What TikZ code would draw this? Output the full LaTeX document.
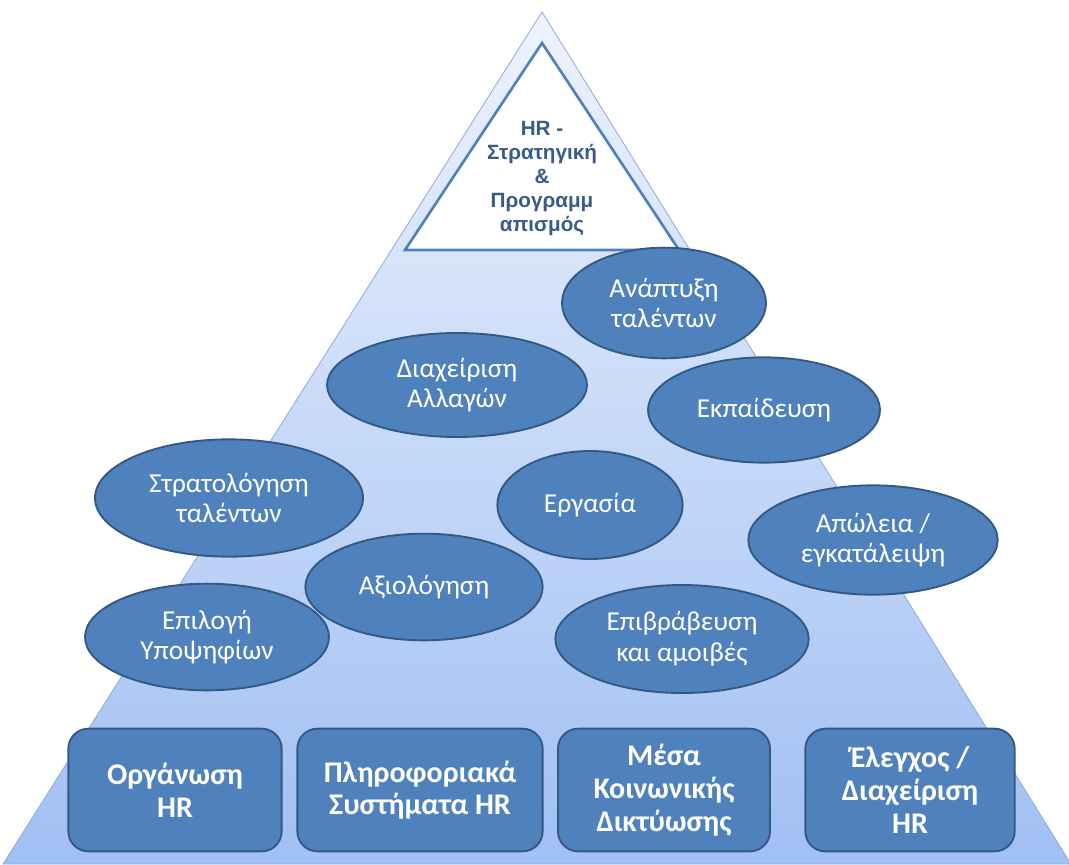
\documentclass[tikz,border=0pt]{standalone}
\usepackage{fontspec}
\setmainfont{Carlito}
\newfontfamily\arialfont{Liberation Sans}
\usetikzlibrary{shapes.geometric}
\definecolor{hrblue}{RGB}{79,129,189}
\definecolor{hredge}{RGB}{52,88,132}
\definecolor{hrtop}{RGB}{238,243,253}
\definecolor{hrbottom}{RGB}{160,191,243}
\definecolor{hrline}{RGB}{140,170,220}
\definecolor{hrtext}{RGB}{58,90,136}

\begin{document}
\begin{tikzpicture}[x=0.75pt, y=-0.75pt,
    oval/.style={ellipse, draw=hredge, fill=hrblue, line width=1.4pt, text=white,
        align=center, inner sep=0pt, font=\fontsize{20.5}{23}\selectfont},
    tile/.style={rectangle, rounded corners=15pt, draw=hredge, fill=hrblue, line width=1.4pt,
        text=white, align=center, inner sep=0pt, minimum height=92pt,
        font=\bfseries\fontsize{22.5}{24.5}\selectfont}]

    \useasboundingbox (0,0) rectangle (1069,864);

    % pyramid
    \shade[top color=hrtop, bottom color=hrbottom, draw=hrline, line width=0.6pt]
        (3,864) -- (542,12) -- (1071,864) -- cycle;
    \draw[fill=white, draw=hrblue, line width=2pt] (405,250) -- (542,43) -- (679,250) -- cycle;
    \node[text=hrtext, align=center, font=\arialfont\bfseries\fontsize{15.5}{18}\selectfont]
        (strategy) at (542,178) {HR -\\Στρατηγική\\\&\\Προγραμμ\\απισμός};

    % ellipses
    \node[oval, minimum width=153pt, minimum height=83pt] (development) at (664,303) {Ανάπτυξη\\ταλέντων};
    \node[oval, minimum width=195pt, minimum height=78pt] (change) at (457,385) {Διαχείριση\\Αλλαγών};
    \node[oval, minimum width=174pt, minimum height=79pt] (training) at (764,410) {Εκπαίδευση};
    \node[oval, minimum width=201pt, minimum height=88pt] (recruiting) at (229,498) {Στρατολόγηση\\ταλέντων};
    \node[oval, minimum width=139pt, minimum height=81pt] (work) at (590,505) {Εργασία};
    \node[oval, minimum width=187pt, minimum height=82pt] (loss) at (873,540) {Απώλεια /\\εγκατάλειψη};
    \node[oval, minimum width=178pt, minimum height=80pt] (appraisal) at (424,587) {Αξιολόγηση};
    \node[oval, minimum width=183pt, minimum height=80pt] (selection) at (207,637) {Επιλογή\\Υποψηφίων};
    \node[oval, minimum width=190pt, minimum height=81pt] (reward) at (682,639) {Επιβράβευση\\και αμοιβές};

    % base boxes
    \node[tile, minimum width=160pt] (organisation) at (175,790) {Οργάνωση\\HR};
    \node[tile, minimum width=184pt] (systems) at (420,790) {Πληροφοριακά\\Συστήματα HR};
    \node[tile, minimum width=159pt] (social) at (664,790) {Μέσα\\Κοινωνικής\\Δικτύωσης};
    \node[tile, minimum width=157pt] (control) at (910,790) {Έλεγχος /\\Διαχείριση\\HR};

\end{tikzpicture}
\end{document}
